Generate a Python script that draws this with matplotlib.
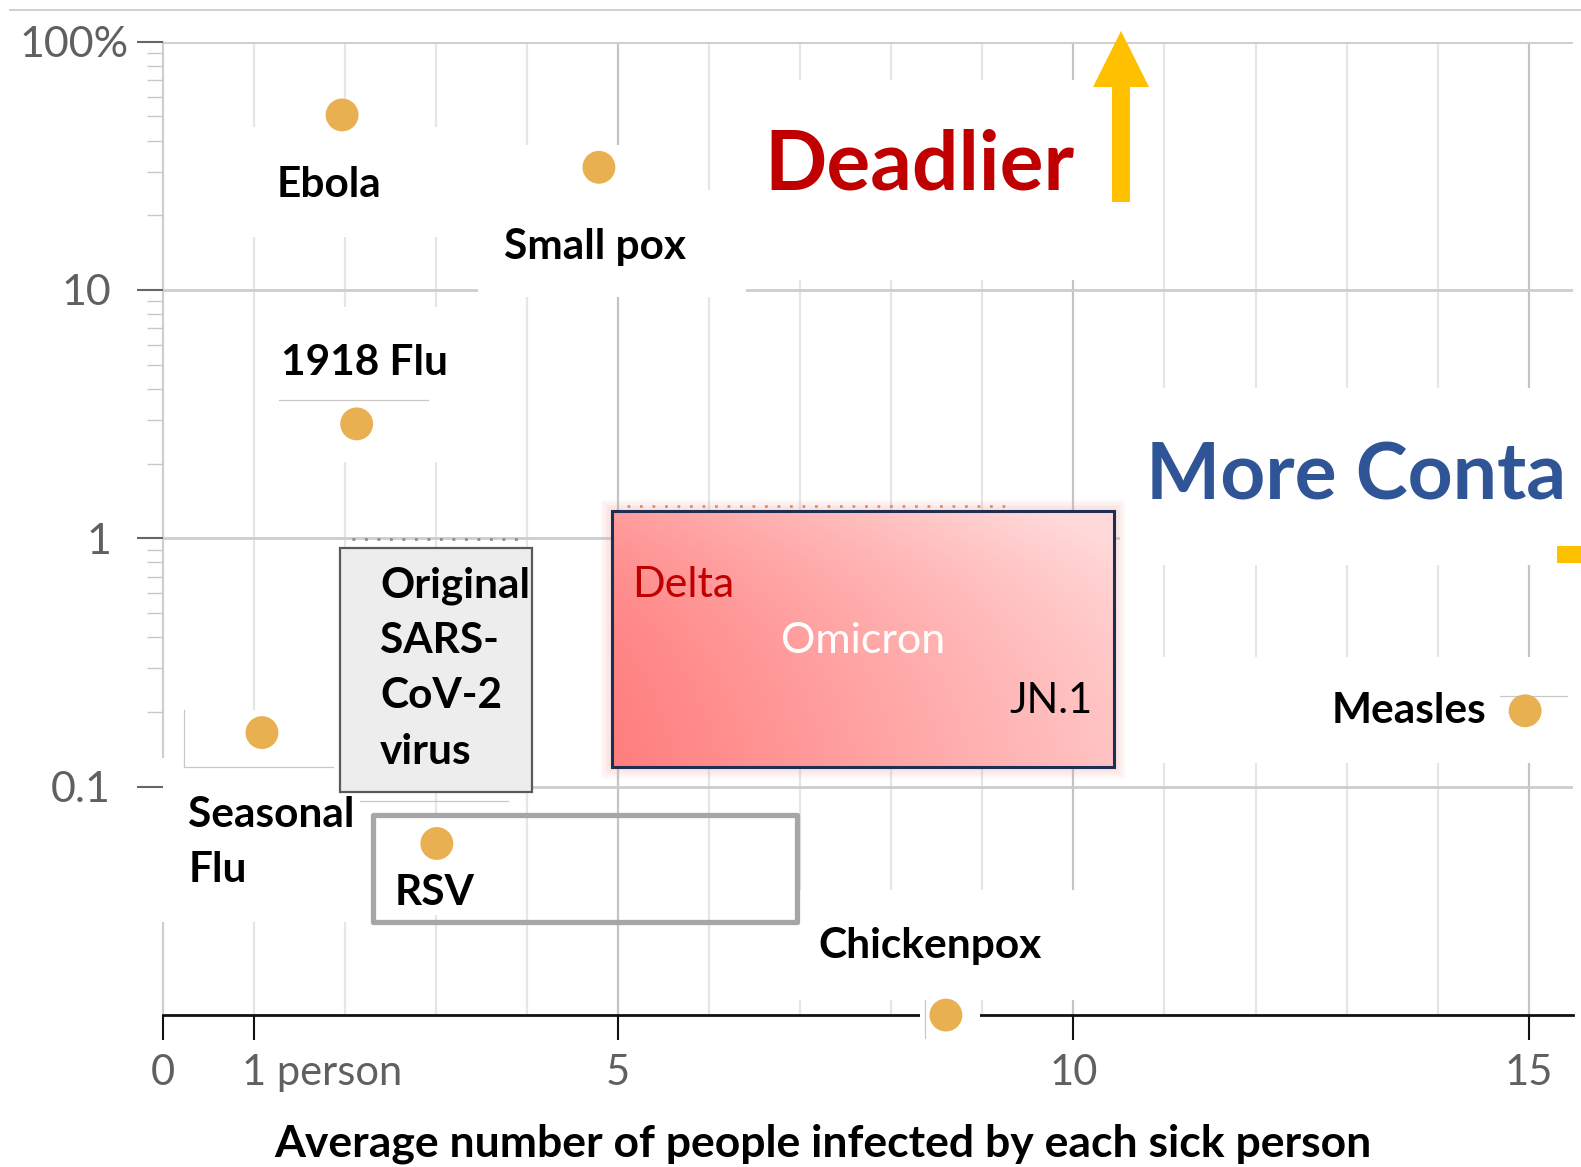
import numpy as np
import matplotlib
matplotlib.use('Agg')
import matplotlib.pyplot as plt
from matplotlib.patches import Rectangle, Polygon
from matplotlib.lines import Line2D
from matplotlib.ticker import FixedLocator, NullFormatter, FixedFormatter

# ---------------- data ----------------
diseases = ['Ebola', 'Small pox', '1918 Flu', 'Seasonal Flu', 'RSV', 'Chickenpox', 'Measles']
r0 = [1.97, 4.79, 2.13, 1.09, 3.01, 8.6, 14.96]
fatality = [50.7, 31.2, 2.89, 0.165, 0.059, 0.01202, 0.202]

label_text = ['Ebola', 'Small pox', '1918 Flu', 'Seasonal\nFlu', 'RSV', 'Chickenpox', 'Measles']
label_x = [1.83, 4.75, 2.22, 0.28, 2.55, 8.42, 14.53]
label_y = [23.7, 13.3, 4.55, 0.069, 0.0334, 0.0204, 0.180]
label_ha = ['center', 'center', 'center', 'left', 'left', 'center', 'right']

box_names = ['Original SARS-CoV-2', 'Delta / Omicron / JN.1', 'RSV range']
box_x0 = [1.945, 4.935, 2.309]
box_x1 = [4.06, 10.446, 6.966]
box_y0 = [0.0947, 0.1196, 0.0286]
box_y1 = [0.918, 1.291, 0.0768]

orig_text = 'Original\nSARS-\nCoV-2\nvirus'
orig_x, orig_y = 2.386, 0.580

variant_names = ['Delta', 'Omicron', 'JN.1']
variant_x = [5.15, 7.69, 10.21]
variant_y = [0.582, 0.344, 0.1973]
variant_colors = ['#C00000', 'white', 'black']
variant_ha = ['left', 'center', 'right']
variant_size = [31, 31, 30]

x_ticks = [0, 1, 5, 10, 15]
x_ticklabels = ['0', '', '5', '10', '15']
y_ticks = [0.1, 1, 10, 100]
y_ticklabels = ['0.1', '1', '10', '100%']
y_minor = [m * d for d in (0.1, 1, 10) for m in range(2, 10)]
x_label = 'Average number of people infected by each sick person'

# ---------------- figure ----------------
W, H, DPI = 1581, 1167, 100
plt.rcParams['font.family'] = ['Lato', 'DejaVu Sans']
fig = plt.figure(figsize=(W / DPI, H / DPI), dpi=DPI)
fig.patch.set_facecolor('white')

def fx(px):
    return px / W

def fy(py):
    return 1 - py / H

PT = 72.0 / DPI  # points per pixel

ax_left, ax_right, ax_top, ax_bot = 162.7, 1573, 41.7, 1015
ax = fig.add_axes([fx(ax_left), fy(ax_bot), (ax_right - ax_left) / W, (ax_bot - ax_top) / H])
ax.set_yscale('log')
ax.set_xlim(0, (ax_right - ax_left) / 91.07)
ax.set_ylim(10 ** (2 - (ax_bot - ax_top) / 248.3), 100)
ax.set_facecolor('none')

# grid
for i in range(1, 16):
    c = '#C4C4C4' if i % 5 == 0 else '#E6E6E6'
    ax.axvline(i, color=c, lw=1.6, zorder=0.5)
for yv in y_ticks:
    ax.axhline(yv, color='#CDCDCD', lw=2.0, zorder=0.5)

for s in ['top', 'right']:
    ax.spines[s].set_visible(False)
ax.spines['left'].set_color('#CFCFCF')
ax.spines['left'].set_linewidth(1.6)
ax.spines['left'].set_zorder(0.6)
ax.spines['bottom'].set_color('#111111')
ax.spines['bottom'].set_linewidth(2.0)
ax.spines['bottom'].set_zorder(0.6)

ax.xaxis.set_major_locator(FixedLocator(x_ticks))
ax.xaxis.set_major_formatter(FixedFormatter(x_ticklabels))
ax.yaxis.set_major_locator(FixedLocator(y_ticks))
ax.yaxis.set_major_formatter(NullFormatter())
ax.yaxis.set_minor_locator(FixedLocator(y_minor))
ax.yaxis.set_minor_formatter(NullFormatter())
ax.tick_params(axis='y', which='major', length=18.7, width=1.5, color='#666666')
ax.tick_params(axis='y', which='minor', length=11.5, width=1.0, color='#C8C8C8')
ax.tick_params(axis='x', which='major', length=18, width=1.5, color='#111111',
               pad=10, labelsize=30, labelcolor='#606060')

# y tick labels (numbers right-aligned, "%" hanging)
for yv, lab in zip(y_ticks, y_ticklabels):
    right_px = 129 if lab.endswith('%') else 111
    ax.annotate(lab, xy=(0, yv), xycoords=('axes fraction', 'data'),
                xytext=(-(ax_left - right_px) * PT, 0), textcoords='offset points',
                ha='right', va='center_baseline', fontsize=31, color='#606060',
                annotation_clip=False)
ax.annotate('1 person', xy=(1, 0), xycoords=('data', 'axes fraction'),
            xytext=(-8.6, -28), textcoords='offset points', ha='left', va='top',
            fontsize=30, color='#606060', annotation_clip=False)

# white patches behind labels (cover gridlines)
white_px = [
    (200, 127, 480, 237),     # Ebola
    (478, 145, 705, 297),     # Small pox
    (705, 190, 746, 297),
    (745, 80, 1150, 280),     # Deadlier
    (265, 307, 500, 462),     # 1918 Flu
    (184, 710, 333, 767),     # seasonal point
    (158, 758, 365, 922),     # Seasonal Flu
    (385, 818, 480, 915),     # RSV
    (790, 890, 1080, 1000),   # Chickenpox
    (920, 1000, 980, 1040),   # chickenpox point
    (1120, 388, 1581, 565),   # More contagious
    (1120, 657, 1581, 763),   # Measles
]
for x0, y0, x1, y1 in white_px:
    r = Rectangle((fx(x0), fy(y1)), (x1 - x0) / W, (y1 - y0) / H, transform=fig.transFigure,
                  fc='white', ec='none', zorder=1, clip_on=False)
    ax.add_artist(r)

# faint box-border artifacts
for (xa, xb, ya, yb) in [(279, 428, 400, 400), (184, 184, 710, 767), (184, 333, 767, 767),
                         (360, 508, 801, 801), (925, 925, 1000, 1038), (1500, 1567, 696, 696)]:
    ax.add_artist(Line2D([fx(xa), fx(xb)], [fy(ya), fy(yb)], transform=fig.transFigure,
                         color='#C8C8C8', lw=0.9, zorder=1.1, clip_on=False))

# dotted lines above boxes
ax.add_artist(Line2D([fx(352), fx(518)], [fy(539), fy(539)], transform=fig.transFigure,
                     color='#8C8C8C', lw=2.0, ls=(0, (1, 3.5)), zorder=1.2, clip_on=False))
ax.add_artist(Line2D([fx(627), fx(1013)], [fy(506), fy(506)], transform=fig.transFigure,
                     color='#E08A5A', lw=2.0, ls=(0, (1, 3.5)), zorder=1.2, clip_on=False))

# Original SARS-CoV-2 box
ax.add_patch(Rectangle((box_x0[0], box_y0[0]), box_x1[0] - box_x0[0], box_y1[0] - box_y0[0],
                       fc='#EDEDED', ec='#595959', lw=1.6, zorder=2))

# soft glow around the variant box
for k in range(1, 7):
    ax.add_patch(Rectangle((box_x0[1], box_y0[1]), box_x1[1] - box_x0[1], box_y1[1] - box_y0[1],
                           fc='none', ec='#F4A0A0', lw=2.2 + 2.4 * k, alpha=0.05, zorder=1.5))

# Delta / Omicron / JN.1 box with gradient
nx, ny = 200, 100
u = np.linspace(0, 1, nx)[None, :]
v = np.linspace(0, 1, ny)[:, None]
t = np.clip(0.75 * u + 0.35 * v, 0, 1)
c0 = np.array([255, 126, 126]) / 255.0
c1 = np.array([255, 218, 218]) / 255.0
grad = c0[None, None, :] * (1 - t[..., None]) + c1[None, None, :] * t[..., None]
ax.imshow(grad, extent=(box_x0[1], box_x1[1], box_y0[1], box_y1[1]), origin='lower',
          aspect='auto', zorder=2, interpolation='bilinear')
ax.add_patch(Rectangle((box_x0[1], box_y0[1]), box_x1[1] - box_x0[1], box_y1[1] - box_y0[1],
                       fc='none', ec='#1F2F54', lw=2.2, zorder=2.2))

# RSV range box
ax.add_patch(Rectangle((box_x0[2], box_y0[2]), box_x1[2] - box_x0[2], box_y1[2] - box_y0[2],
                       fc='none', ec='#A6A6A6', lw=3.8, joinstyle='round', zorder=2))

# points
ax.scatter(r0, fatality, s=560, color='#E8B050', edgecolors='none', zorder=3, clip_on=False)

# labels
line_step = 39.8
for txt, x, y, ha in zip(label_text, label_x, label_y, label_ha):
    for i, line in enumerate(txt.split('\n')):
        ax.annotate(line, xy=(x, y), xytext=(0, -i * line_step), textcoords='offset points',
                    ha=ha, va='baseline', fontsize=30.5, fontweight='bold', color='black',
                    zorder=4, annotation_clip=False)
for i, line in enumerate(orig_text.split('\n')):
    ax.annotate(line, xy=(orig_x, orig_y), xytext=(0, -i * 40.0), textcoords='offset points',
                ha='left', va='baseline', fontsize=30.5, fontweight='bold', color='black', zorder=4)
for name, x, y, c, ha, fs in zip(variant_names, variant_x, variant_y, variant_colors,
                                 variant_ha, variant_size):
    ax.text(x, y, name, ha=ha, va='baseline', fontsize=fs, color=c, zorder=4)

# annotations outside data
arrow = Polygon([(fx(1112), fy(202)), (fx(1112), fy(87)), (fx(1093), fy(87)), (fx(1121), fy(31)),
                 (fx(1149), fy(87)), (fx(1130), fy(87)), (fx(1130), fy(202))],
                closed=True, transform=fig.transFigure, fc='#FFC000', ec='none', zorder=5)
fig.add_artist(arrow)
fig.add_artist(Rectangle((fx(1557), fy(563)), 24 / W, 17 / H, transform=fig.transFigure,
                         fc='#FFC000', ec='none', zorder=5))
fig.add_artist(Line2D([fx(10), 1], [fy(10), fy(10)], color='#C8C8C8', lw=1.2, zorder=5))

fig.text(fx(764), fy(190), 'Deadlier', fontsize=59, fontweight='bold', color='#C00000',
         ha='left', va='baseline', zorder=6)
fig.text(fx(1146), fy(500), 'More Conta', fontsize=56.5, fontweight='bold', color='#2F5597',
         ha='left', va='baseline', zorder=6)
fig.text(fx(823), fy(1156), x_label, fontsize=32, fontweight='bold', color='black',
         ha='center', va='baseline', zorder=6)

fig.savefig('out.png', dpi=DPI, facecolor='white')
